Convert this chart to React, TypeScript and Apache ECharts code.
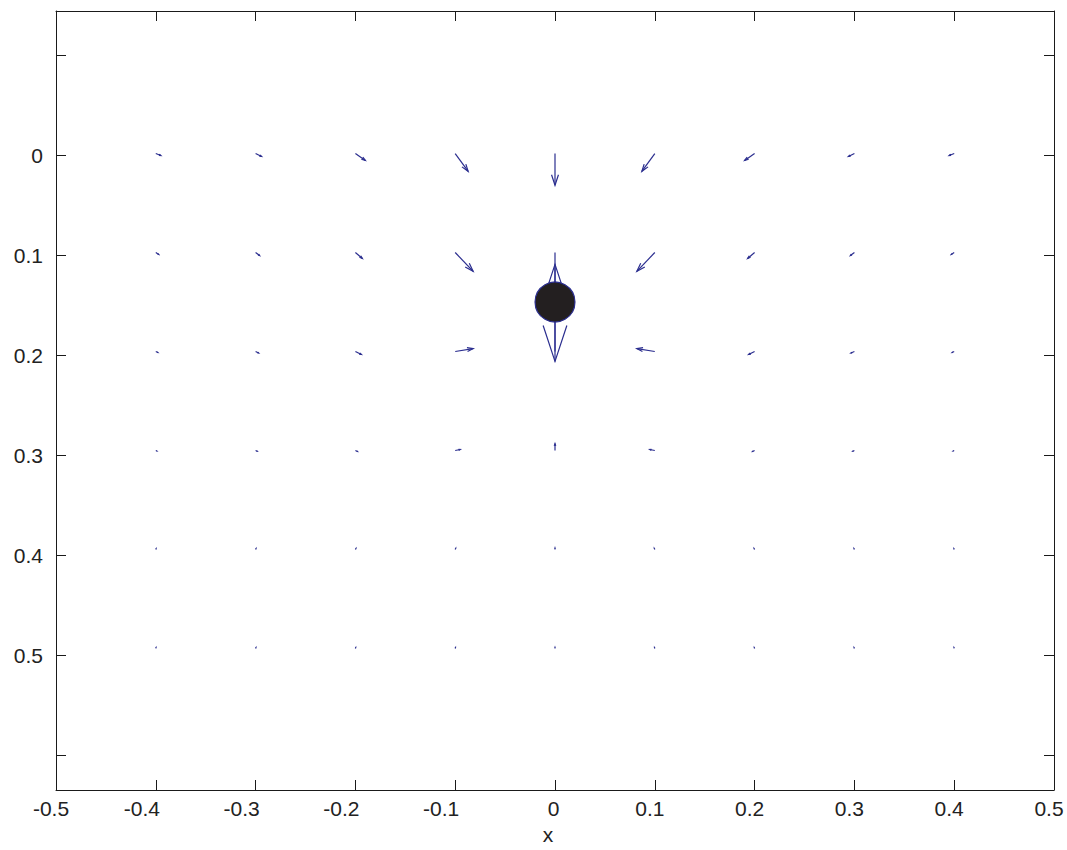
import React, { useEffect, useRef } from "react";
import * as echarts from "echarts";

// grid positions of the quiver arrows
const xPositions = [-0.4, -0.3, -0.2, -0.1, 0, 0.1, 0.2, 0.3, 0.4];
const yPositions = [0, 0.1, 0.2, 0.3, 0.4, 0.5];

// horizontal components (u) per row
const u0 = [0.005, 0.006, 0.010, 0.013, 0, -0.013, -0.010, -0.006, -0.005];
const u1 = [0.003, 0.004, 0.007, 0.018, 0, -0.018, -0.007, -0.004, -0.003];
const u2 = [0.002, 0.003, 0.006, 0.018, 0, -0.018, -0.006, -0.0035, -0.002];
const u3 = [0.001, 0.0015, 0.002, 0.005, 0, -0.005, -0.002, -0.0015, -0.001];
const u4 = [0.0003, 0.0004, 0.0005, 0.0005, 0, -0.0005, -0.0005, -0.0004, -0.0003];
const u5 = [0.0002, 0.0003, 0.0003, 0.0003, 0, -0.0003, -0.0003, -0.0003, -0.0002];

// vertical components (v, positive = downward on the reversed axis) per row
const v0 = [0.002, 0.003, 0.007, 0.018, 0.032, 0.018, 0.007, 0.003, 0.002];
const v1 = [0.002, 0.003, 0.006, 0.019, 0.110, 0.019, 0.006, 0.003, 0.002];
const v2 = [0.001, 0.0015, 0.003, -0.003, -0.088, -0.003, 0.003, 0.0015, 0.001];
const v3 = [0.0005, 0.0007, 0.001, -0.001, -0.007, -0.001, 0.001, 0.0007, 0.0005];
const v4 = [-0.0008, -0.001, -0.001, -0.0012, -0.0015, -0.0012, -0.001, -0.001, -0.0008];
const v5 = [-0.0008, -0.0008, -0.0009, -0.0009, -0.001, -0.0009, -0.0009, -0.0008, -0.0008];

const uRows = [u0, u1, u2, u3, u4, u5];
const vRows = [v0, v1, v2, v3, v4, v5];

// obstacle (circle) centre and radius in data units
const circleCenter = [0, 0.15];
const circleRadius = 0.02;

const xRange = [-0.5, 0.5];
const yFrame = [-0.144, 0.643];
const yTickRange = [-0.1, 0.6];

const ARROW = "#2b2e8f";
const AXIS = "#1a1a1a";
const FONT = "'Liberation Sans', Arial, sans-serif";
const FS = 21;

const fmt = (v: number) => {
  const r = Math.round(v * 10) / 10;
  return r === 0 ? "0" : String(r);
};

const xLabelFmt = (v: number) => {
  const r = Math.round(v * 10) / 10;
  let key = "p";
  if (r < -0.05 && r > -0.45) key = "n";
  else if (r === 0) key = "z";
  return `{${key}|${fmt(r)}}`;
};

export default function App() {
  const ref = useRef<HTMLDivElement>(null);

  useEffect(() => {
    if (!ref.current) return;
    const chart = echarts.init(ref.current, null, { renderer: "svg" });

    const quiverData: number[][] = [];
    yPositions.forEach((y, i) => {
      xPositions.forEach((x, j) => {
        quiverData.push([x, y, uRows[i][j], vRows[i][j]]);
      });
    });

    const alpha = 0.33;
    const beta = 0.33;
    const labelBase = { color: "#222", fontSize: FS, fontFamily: FONT };

    const option: any = {
      animation: false,
      backgroundColor: "#ffffff",
      grid: [
        { left: 56, right: 13, top: 11, bottom: 52 },
        { left: 56, right: 13, top: 55, height: 700 },
      ],
      xAxis: [
        {
          gridIndex: 0,
          type: "value",
          position: "bottom",
          min: xRange[0],
          max: xRange[1],
          interval: 0.1,
          axisLine: { show: true, onZero: false, lineStyle: { color: AXIS, width: 1 } },
          axisTick: { show: true, inside: true, length: 10, lineStyle: { color: AXIS } },
          axisLabel: {
            show: true,
            margin: 8,
            ...labelBase,
            formatter: xLabelFmt,
            rich: {
              n: { ...labelBase, padding: [0, 28, 0, 0] },
              p: { ...labelBase, padding: [0, 10, 0, 0] },
              z: { ...labelBase, padding: [0, 3, 0, 0] },
            },
          },
          splitLine: { show: false },
          name: "x",
          nameLocation: "middle",
          nameGap: 34,
          nameTextStyle: { ...labelBase, padding: [0, 14, 0, 0] },
        },
        {
          gridIndex: 0,
          type: "value",
          position: "top",
          min: xRange[0],
          max: xRange[1],
          interval: 0.1,
          axisLine: { show: true, onZero: false, lineStyle: { color: AXIS, width: 1 } },
          axisTick: { show: true, inside: true, length: 10, lineStyle: { color: AXIS } },
          axisLabel: { show: false },
          splitLine: { show: false },
        },
        {
          gridIndex: 1,
          type: "value",
          min: xRange[0],
          max: xRange[1],
          show: false,
        },
      ],
      yAxis: [
        {
          gridIndex: 0,
          type: "value",
          position: "left",
          inverse: true,
          min: yFrame[0],
          max: yFrame[1],
          axisLine: { show: true, onZero: false, lineStyle: { color: AXIS, width: 1 } },
          axisTick: { show: false },
          axisLabel: { show: false },
          splitLine: { show: false },
        },
        {
          gridIndex: 0,
          type: "value",
          position: "right",
          inverse: true,
          min: yFrame[0],
          max: yFrame[1],
          axisLine: { show: true, onZero: false, lineStyle: { color: AXIS, width: 1 } },
          axisTick: { show: false },
          axisLabel: { show: false },
          splitLine: { show: false },
        },
        {
          gridIndex: 1,
          type: "value",
          position: "left",
          inverse: true,
          min: yTickRange[0],
          max: yTickRange[1],
          interval: 0.1,
          axisLine: { show: false, onZero: false },
          axisTick: { show: true, inside: true, length: 10, lineStyle: { color: AXIS } },
          axisLabel: {
            show: true,
            margin: 13,
            ...labelBase,
            formatter: (v: number) => {
              const r = Math.round(v * 10) / 10;
              if (r < -0.05 || r > 0.55) return "";
              return fmt(r);
            },
          },
          splitLine: { show: false },
        },
        {
          gridIndex: 1,
          type: "value",
          position: "right",
          inverse: true,
          min: yTickRange[0],
          max: yTickRange[1],
          interval: 0.1,
          axisLine: { show: false, onZero: false },
          axisTick: { show: true, inside: true, length: 10, lineStyle: { color: AXIS } },
          axisLabel: { show: false },
          splitLine: { show: false },
        },
      ],
      series: [
        {
          type: "custom",
          xAxisIndex: 0,
          yAxisIndex: 0,
          clip: false,
          data: quiverData,
          renderItem: (params: any, api: any) => {
            const x = api.value(0);
            const y = api.value(1);
            const u = api.value(2);
            const v = api.value(3);
            const p0 = api.coord([x, y]);
            const p1 = api.coord([x + u, y + v]);
            const dx = p1[0] - p0[0];
            const dy = p1[1] - p0[1];
            const b1 = [
              p1[0] - alpha * (dx + beta * dy),
              p1[1] - alpha * (dy - beta * dx),
            ];
            const b2 = [
              p1[0] - alpha * (dx - beta * dy),
              p1[1] - alpha * (dy + beta * dx),
            ];
            const style = { stroke: ARROW, lineWidth: 1.2, fill: null };
            return {
              type: "group",
              children: [
                { type: "line", shape: { x1: p0[0], y1: p0[1], x2: p1[0], y2: p1[1] }, style },
                { type: "polyline", shape: { points: [b1, p1, b2] }, style },
              ],
            };
          },
          silent: true,
          z: 2,
        },
        {
          type: "custom",
          xAxisIndex: 0,
          yAxisIndex: 0,
          data: [[circleCenter[0], circleCenter[1], circleRadius]],
          renderItem: (params: any, api: any) => {
            const c = api.coord([api.value(0), api.value(1)]);
            const r = api.size([api.value(2), 0])[0];
            return {
              type: "circle",
              shape: { cx: c[0], cy: c[1], r },
              style: { fill: "#231f20", stroke: ARROW, lineWidth: 1.2 },
            };
          },
          silent: true,
          z: 3,
        },
      ],
    };

    chart.setOption(option);
    return () => chart.dispose();
  }, []);

  return (
    <div
      ref={ref}
      style={{ position: "fixed", left: 0, top: 0, width: 1067, height: 850, background: "#fff" }}
    />
  );
}
